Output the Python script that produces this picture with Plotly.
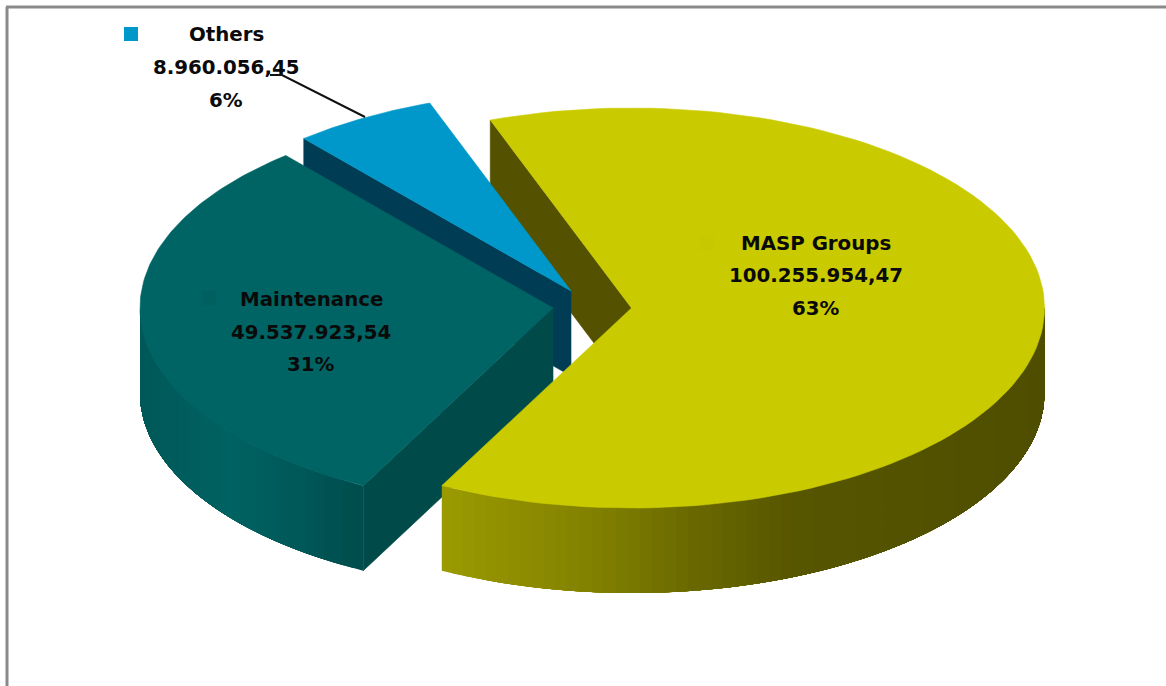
import math
import plotly.graph_objects as go

# ---- data ----
categories = ["MASP Groups", "Maintenance", "Others"]
values = [100255954.47, 49537923.54, 8960056.45]

# ---- styling / geometry ----
W, H = 1166, 686
RX, RY, DEPTH = 413, 200, 85
START = -20.0  # clockwise degrees from 12 o'clock
CENTERS = {"MASP Groups": (631.5, 308), "Maintenance": (553, 308), "Others": (571, 291)}
TOP = {"MASP Groups": "#C9CB00", "Maintenance": "#006464", "Others": "#0098CA"}
WALL = {"MASP Groups": "#545200", "Maintenance": "#004A4A", "Others": "#003D55"}
RAMP = {
    "MASP Groups": [(441, (155, 155, 0)), (600, (128, 127, 0)), (700, (104, 103, 0)),
                    (800, (86, 85, 0)), (1045, (79, 78, 0))],
    "Maintenance": [(138, (0, 88, 88)), (230, (0, 98, 98)), (300, (0, 88, 88)), (362, (0, 76, 76))],
}
LABELS = {"MASP Groups": (816, (243, 275.5, 308), (707, 243)),
          "Maintenance": (311, (299, 332, 364), (209, 298)),
          "Others": (226, (34, 67, 100), (131, 34))}
MARK = {"MASP Groups": "#C7C900", "Maintenance": "#006060", "Others": "#0098CA"}
FONT = "DejaVu Sans, sans-serif"
FS = 19.8

total = sum(values)
spans = {c: v / total * 360 for c, v in zip(categories, values)}
starts = {}
a = START
for c in categories:
    starts[c] = a
    a += spans[c]


def pt(c, deg, drop=0):
    cx, cy = CENTERS[c]
    t = math.radians(deg)
    return cx + RX * math.sin(t), cy - RY * math.cos(t) + drop


def arc(c, a0, a1, drop=0, n=120):
    return [pt(c, a0 + (a1 - a0) * i / n, drop) for i in range(n + 1)]


def ramp(c, x):
    stops = RAMP[c]
    col = stops[-1][1] if x >= stops[-1][0] else stops[0][1]
    for (x0, c0), (x1, c1) in zip(stops, stops[1:]):
        if x0 <= x <= x1:
            f = (x - x0) / (x1 - x0)
            col = tuple(round(p + (q - p) * f) for p, q in zip(c0, c1))
            break
    return "rgb(%d,%d,%d)" % col


fig = go.Figure()


def poly(pts, color, stroke=0.6):
    xs = [p[0] for p in pts] + [pts[0][0]]
    ys = [p[1] for p in pts] + [pts[0][1]]
    fig.add_trace(go.Scatter(x=xs, y=ys, mode="lines", fill="toself", fillcolor=color,
                             line=dict(color=color, width=stroke), hoverinfo="skip", showlegend=False))


def top(c):
    a0, a1 = starts[c], starts[c] + spans[c]
    poly([CENTERS[c]] + arc(c, a0, a1), TOP[c])


def edge_wall(c, deg):
    p0 = CENTERS[c]
    p1 = pt(c, deg)
    poly([p1, p0, (p0[0], p0[1] + DEPTH), (p1[0], p1[1] + DEPTH)], WALL[c])


def outer(c, a0, a1, n):
    # each strip runs on to the far end, the next one painted over it: no seams
    for i in range(n):
        s0 = a0 + (a1 - a0) * i / n
        up = arc(c, s0, a1, 0, 60)
        dn = arc(c, a1, s0, DEPTH, 60)
        mid = pt(c, s0 + (a1 - a0) / (2 * n))[0]
        poly(up + dn, ramp(c, mid), stroke=0)


m, t, o = categories[0], categories[1], categories[2]

# back to front
edge_wall(m, starts[m])
edge_wall(o, starts[o])
top(o)
outer(t, starts[t], 270, 40)
edge_wall(t, starts[t])
top(t)
outer(m, starts[m] + spans[m], 90, 70)
top(m)

# leader line of the small slice
fig.add_trace(go.Scatter(x=[270, 282, 365], y=[75, 75, 117], mode="lines",
                         line=dict(color="#111111", width=2), hoverinfo="skip", showlegend=False))


def money(v):
    return f"{v:,.2f}".replace(",", "X").replace(".", ",").replace("X", ".")


# labels
for c, v in zip(categories, values):
    x, ys, key = LABELS[c]
    fig.add_trace(go.Scatter(x=[key[0]], y=[key[1]], mode="markers",
                             marker=dict(symbol="square", size=14, color=MARK[c]),
                             hoverinfo="skip", showlegend=False))
    for line, y in zip([c, money(v), f"{v / total * 100:.0f}%"], ys):
        fig.add_annotation(x=x, y=y, text=f"<b>{line}</b>", showarrow=False,
                           xanchor="center", yanchor="middle",
                           font=dict(family=FONT, size=FS, color="#0A0A0A"))

# picture frame
fig.add_shape(type="line", x0=7, x1=7, y0=7, y1=686, line=dict(color="#8A8A8A", width=3))
fig.add_shape(type="line", x0=6, x1=1166, y0=7, y1=7, line=dict(color="#8A8A8A", width=3))

fig.update_layout(
    width=W, height=H, margin=dict(l=0, r=0, t=0, b=0),
    paper_bgcolor="white", plot_bgcolor="white", showlegend=False,
    xaxis=dict(range=[0, W], visible=False, fixedrange=True),
    yaxis=dict(range=[H, 0], visible=False, fixedrange=True),
)
fig.write_html("out.html", config={"displayModeBar": False},
               post_script="document.body.style.margin='0';document.body.style.overflow='hidden';")
